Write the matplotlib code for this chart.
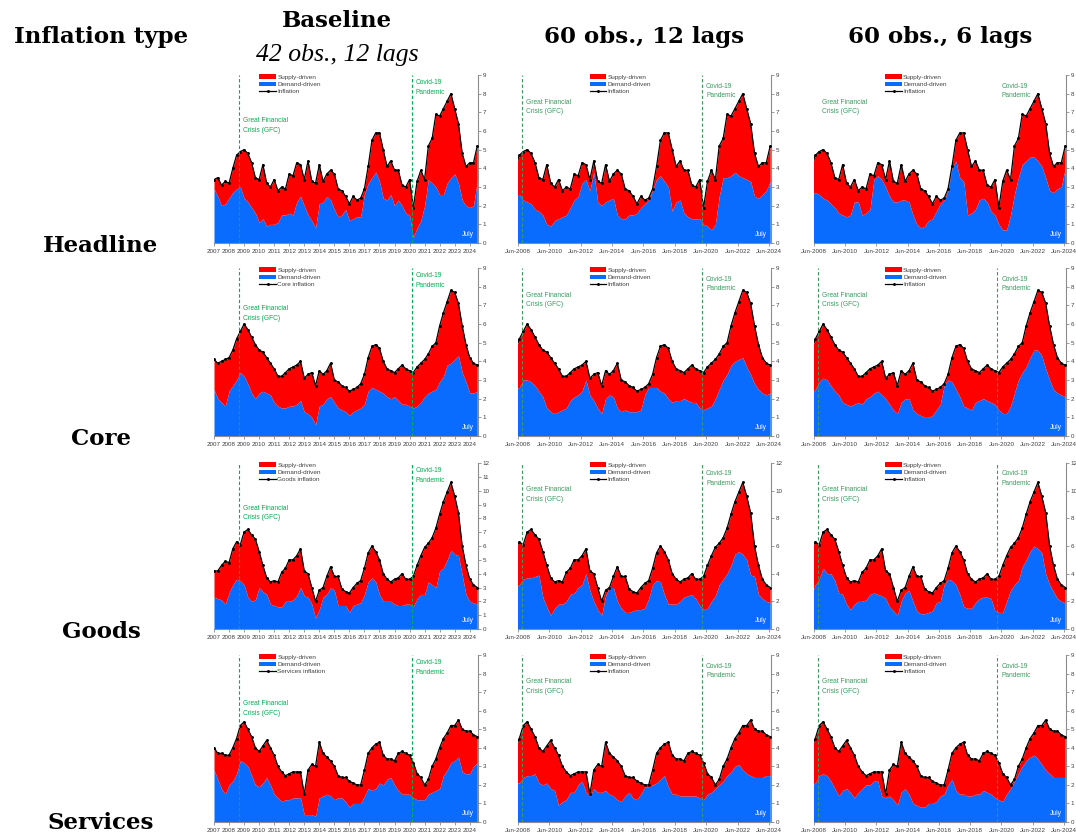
import numpy as np
import matplotlib
matplotlib.use("Agg")
import matplotlib.pyplot as plt
from matplotlib.patches import Patch
from matplotlib.lines import Line2D

plt.rcParams['font.family'] = ['Liberation Sans', 'DejaVu Sans']

# ---------------- data (quarterly readings, Jan 2007 .. Jul 2024) ----------------
start_year = 2007
n_q = 71
start_alt = 5  # 60-obs models start in 2008 Q2

headline_infl = [3.4, 3.5, 3.1, 3.3, 3.2, 4.0, 4.7, 4.9, 5.0, 4.8, 4.3, 3.5,
                 3.4, 4.2, 3.2, 3.0, 3.4, 2.8, 3.0, 2.9, 3.7, 3.6, 4.3, 4.2,
                 3.4, 4.4, 3.3, 3.2, 4.2, 3.3, 3.7, 3.9, 3.7, 2.9, 2.8, 2.5,
                 2.1, 2.5, 2.3, 2.4, 2.9, 4.1, 5.5, 5.9, 5.9, 5.0, 4.1, 4.4,
                 3.9, 3.9, 3.1, 3.0, 3.4, 1.9, 3.3, 3.9, 3.4, 5.2, 5.6, 6.9,
                 6.8, 7.2, 7.6, 8.0, 7.2, 6.4, 4.8, 4.1, 4.3, 4.3, 5.2]
headline_dem_base = [2.9, 2.5, 2.0, 2.1, 2.4, 2.7, 2.9, 3.0, 2.4, 2.2, 1.9, 1.6,
                     1.1, 1.3, 0.9, 1.0, 1.0, 1.1, 1.5, 1.5, 1.6, 1.5, 2.2, 2.5,
                     2.0, 1.5, 1.2, 0.8, 2.1, 2.2, 2.5, 2.3, 1.8, 1.4, 1.5, 1.8,
                     1.2, 1.3, 1.4, 1.4, 2.6, 3.2, 3.5, 3.8, 3.3, 2.4, 2.3, 2.6,
                     2.0, 2.3, 2.0, 1.6, 1.5, 0.3, 0.8, 1.2, 2.0, 3.4, 3.2, 3.0,
                     2.6, 2.6, 3.2, 3.5, 3.7, 3.2, 2.3, 2.0, 1.9, 2.0, 3.3]
headline_dem_60x12 = [2.6, 2.6, 2.3, 2.2, 2.1, 1.8, 1.7, 1.5, 1.0, 0.9, 1.2,
                      1.3, 1.4, 1.5, 1.9, 2.3, 2.5, 3.2, 3.4, 2.8, 3.8, 2.2, 2.0,
                      2.2, 2.3, 2.4, 1.5, 1.3, 1.3, 1.5, 1.5, 1.6, 1.9, 2.1, 2.3,
                      2.8, 3.4, 3.6, 3.3, 3.0, 1.7, 2.2, 2.3, 1.6, 1.4, 1.3, 1.3,
                      1.3, 1.0, 0.9, 0.7, 1.0, 2.5, 3.5, 3.5, 3.6, 3.8, 3.6, 3.5,
                      3.4, 3.3, 2.5, 2.4, 2.6, 2.8, 3.3]
headline_dem_60x6 = [2.6, 2.7, 2.6, 2.4, 2.3, 2.1, 1.9, 1.6, 1.5, 1.4, 1.5,
                     2.2, 2.2, 1.5, 1.6, 1.8, 3.4, 3.6, 3.4, 3.0, 2.5, 2.2, 2.2,
                     2.3, 2.3, 2.2, 1.5, 1.0, 0.8, 0.9, 1.2, 1.3, 1.7, 2.1, 2.3,
                     2.8, 4.0, 4.4, 3.5, 3.3, 1.5, 1.6, 1.8, 2.3, 2.4, 2.2, 1.7,
                     1.5, 1.0, 0.7, 0.7, 1.5, 2.6, 3.5, 4.2, 4.4, 4.6, 4.6, 4.4,
                     4.1, 3.5, 2.8, 2.7, 2.9, 3.0, 4.0]

core_infl = [4.1, 3.9, 4.0, 4.1, 4.2, 4.6, 5.2, 5.6, 6.0, 5.7, 5.3, 4.9,
             4.6, 4.5, 4.2, 3.9, 3.6, 3.2, 3.2, 3.4, 3.6, 3.7, 3.8, 4.0,
             3.1, 3.3, 3.4, 2.7, 3.5, 3.3, 3.5, 3.9, 3.0, 2.9, 2.7, 2.6,
             2.4, 2.5, 2.6, 2.8, 3.3, 4.2, 4.8, 4.9, 4.7, 4.0, 3.6, 3.5,
             3.4, 3.6, 3.8, 3.6, 3.5, 3.4, 3.7, 3.9, 4.1, 4.4, 4.8, 5.0,
             5.9, 6.6, 7.2, 7.8, 7.7, 7.1, 5.9, 4.9, 4.2, 3.9, 3.8]
core_dem_base = [2.5, 2.0, 1.8, 1.6, 2.4, 2.7, 3.0, 3.4, 3.2, 2.8, 2.3, 2.0,
                 2.3, 2.4, 2.3, 2.2, 1.8, 1.6, 1.5, 1.5, 1.6, 1.6, 1.7, 1.9,
                 1.3, 1.2, 1.0, 0.6, 1.6, 1.7, 2.0, 2.1, 1.8, 1.5, 1.4, 1.3,
                 1.1, 1.3, 1.4, 1.5, 1.7, 2.4, 2.6, 2.5, 2.4, 2.3, 2.1, 2.0,
                 2.1, 1.9, 1.7, 1.7, 1.6, 1.5, 1.6, 1.8, 2.1, 2.3, 2.4, 2.5,
                 2.9, 3.2, 3.8, 3.9, 4.1, 4.3, 3.4, 2.9, 2.3, 2.3, 2.4]
core_dem_60x12 = [2.5, 2.6, 3.0, 3.0, 2.9, 2.7, 2.4, 2.1, 1.5, 1.3, 1.2,
                  1.3, 1.4, 1.5, 1.9, 2.1, 2.2, 2.4, 3.0, 2.2, 1.9, 1.5, 1.2,
                  2.0, 2.2, 2.1, 1.5, 1.3, 1.4, 1.3, 1.3, 1.3, 1.4, 2.2, 2.6,
                  2.6, 2.6, 2.4, 2.3, 2.0, 1.8, 1.9, 1.9, 2.0, 1.9, 1.8, 1.8,
                  1.5, 1.4, 1.5, 1.6, 2.0, 2.5, 3.0, 3.3, 3.8, 4.0, 4.1, 4.2,
                  3.7, 3.3, 2.8, 2.5, 2.3, 2.2, 2.3]
core_dem_60x6 = [2.2, 2.5, 2.9, 3.1, 3.0, 2.7, 2.4, 2.2, 1.8, 1.7, 1.6,
                 1.7, 1.8, 1.7, 2.0, 2.1, 2.3, 2.4, 2.2, 2.0, 1.7, 1.4, 1.2,
                 1.8, 2.0, 2.0, 1.4, 1.2, 1.1, 1.0, 1.0, 1.1, 1.4, 1.7, 2.7,
                 3.0, 2.9, 2.5, 2.1, 1.6, 1.5, 1.4, 1.8, 1.9, 2.0, 1.9, 1.8,
                 1.7, 1.4, 1.2, 1.2, 1.6, 2.3, 3.0, 3.4, 3.7, 4.2, 4.6, 4.6,
                 4.3, 3.6, 3.0, 2.5, 2.3, 2.2, 2.1]

goods_infl = [4.2, 4.2, 4.6, 4.9, 4.8, 5.8, 6.3, 6.1, 7.0, 7.2, 6.8, 6.5,
              5.6, 4.6, 3.7, 3.4, 3.5, 3.4, 4.1, 4.4, 5.0, 5.0, 5.3, 5.8,
              4.2, 4.0, 3.0, 2.0, 2.8, 3.0, 3.8, 4.5, 3.8, 3.8, 2.9, 2.7,
              2.6, 3.0, 3.3, 3.5, 4.4, 5.5, 6.0, 5.6, 5.0, 4.0, 3.6, 3.4,
              3.6, 3.7, 4.0, 3.6, 3.6, 3.8, 4.6, 5.3, 5.9, 6.2, 6.6, 7.3,
              8.3, 9.2, 9.9, 10.6, 9.6, 8.4, 6.0, 4.6, 3.6, 3.2, 3.0]
goods_dem_base = [2.3, 2.2, 2.1, 1.8, 2.6, 3.2, 3.6, 3.5, 3.2, 2.3, 2.0, 2.1,
                  3.0, 2.7, 2.5, 1.8, 1.7, 1.6, 1.6, 2.0, 2.0, 2.1, 2.4, 3.0,
                  2.4, 2.3, 1.8, 0.8, 1.4, 2.3, 2.5, 3.0, 2.8, 1.7, 1.7, 1.7,
                  1.2, 1.7, 1.8, 1.9, 2.5, 3.4, 3.7, 3.4, 2.5, 2.0, 2.0, 2.0,
                  1.8, 1.7, 1.7, 1.8, 1.8, 1.6, 2.2, 2.5, 2.5, 3.4, 3.2, 3.0,
                  4.2, 4.4, 5.0, 5.7, 5.4, 5.3, 3.9, 2.5, 2.0, 1.9, 1.8]
goods_dem_60x12 = [3.0, 3.2, 3.6, 3.7, 3.7, 3.8, 3.9, 2.3, 1.6, 1.0, 1.5,
                   1.8, 1.8, 2.0, 2.5, 2.6, 3.0, 3.2, 4.0, 2.8, 2.0, 1.4, 1.0,
                   2.4, 3.0, 3.0, 2.0, 1.5, 1.2, 1.2, 1.3, 1.4, 1.4, 1.5, 2.2,
                   3.2, 3.5, 3.4, 2.5, 1.8, 1.8, 1.8, 2.0, 2.3, 2.4, 2.5, 2.2,
                   1.7, 1.4, 1.5, 2.0, 2.4, 3.2, 3.6, 4.0, 4.6, 5.4, 5.6, 5.4,
                   5.0, 3.9, 3.8, 2.5, 2.2, 2.0, 1.9]
goods_dem_60x6 = [2.5, 3.2, 3.6, 4.4, 4.0, 4.0, 3.5, 2.6, 2.5, 1.8, 1.4,
                  1.8, 2.0, 2.0, 2.1, 2.5, 2.6, 2.5, 2.4, 2.2, 1.6, 1.3, 1.0,
                  2.0, 2.6, 2.8, 2.0, 1.3, 1.1, 1.1, 1.2, 1.3, 1.9, 2.0, 3.2,
                  3.6, 3.5, 3.2, 2.5, 1.6, 1.5, 1.5, 1.9, 2.2, 2.3, 2.3, 2.2,
                  1.3, 1.2, 1.2, 2.0, 2.8, 3.2, 3.5, 4.5, 5.0, 5.6, 6.0, 5.8,
                  5.5, 4.0, 3.2, 2.7, 2.2, 2.0, 1.9]

services_infl = [4.0, 3.7, 3.7, 3.6, 3.6, 4.0, 4.5, 5.2, 5.4, 5.0, 4.6, 4.0,
                 3.8, 4.1, 4.4, 4.0, 3.6, 3.0, 2.7, 2.5, 2.6, 2.7, 2.7, 2.7,
                 1.5, 2.8, 3.1, 3.0, 4.3, 3.7, 3.5, 3.3, 3.0, 2.5, 2.4, 2.4,
                 2.2, 2.1, 2.0, 2.0, 2.8, 3.7, 4.0, 4.2, 4.3, 3.6, 3.4, 3.4,
                 3.3, 3.7, 3.8, 3.7, 3.6, 3.2, 2.6, 2.4, 2.0, 2.3, 3.0, 3.4,
                 4.0, 4.5, 4.8, 5.2, 5.2, 5.5, 5.0, 4.9, 4.9, 4.7, 4.6]
services_dem_base = [2.8, 2.3, 1.8, 1.5, 2.0, 2.2, 2.6, 3.3, 3.2, 3.0, 2.5, 2.0,
                     1.9, 2.1, 2.4, 2.0, 1.5, 1.3, 1.1, 1.2, 1.2, 1.3, 1.3, 1.3,
                     0.4, 0.4, 0.4, 0.3, 1.3, 1.4, 1.5, 1.4, 1.2, 1.3, 1.3, 1.1,
                     0.8, 1.0, 1.0, 1.0, 1.4, 1.8, 1.7, 1.8, 2.1, 2.0, 2.3, 2.4,
                     2.0, 1.7, 1.5, 1.5, 1.5, 1.3, 1.2, 1.2, 1.2, 1.5, 1.6, 1.7,
                     1.8, 2.5, 2.8, 3.2, 3.3, 3.5, 2.7, 2.6, 2.6, 3.0, 3.2]
services_dem_60x12 = [2.1, 2.1, 2.4, 2.5, 2.5, 2.6, 2.1, 2.0, 2.1, 1.8, 1.7,
                      0.9, 1.1, 1.2, 1.6, 1.6, 2.0, 2.2, 1.6, 1.4, 1.8, 1.6, 1.6,
                      1.7, 1.5, 1.4, 1.2, 1.1, 1.4, 1.6, 1.3, 1.2, 1.5, 1.9, 1.9,
                      2.0, 2.1, 2.3, 2.5, 1.9, 1.5, 1.5, 1.4, 1.4, 1.4, 1.4, 1.4,
                      1.3, 1.2, 1.5, 1.6, 1.8, 2.0, 2.2, 2.5, 2.7, 3.0, 3.1, 2.8,
                      2.6, 2.5, 2.4, 2.4, 2.4, 2.5, 2.5]
services_dem_60x6 = [2.0, 2.1, 2.5, 2.6, 2.5, 2.2, 1.8, 1.4, 1.7, 1.8, 1.6,
                     1.3, 1.6, 1.8, 2.0, 2.0, 2.2, 2.2, 1.4, 1.3, 1.4, 1.2, 0.9,
                     1.6, 1.8, 1.5, 1.0, 0.9, 0.8, 0.8, 1.0, 1.0, 1.1, 1.4, 1.5,
                     2.0, 2.3, 1.7, 1.5, 1.5, 1.4, 1.4, 1.5, 1.5, 1.7, 1.6, 1.5,
                     1.3, 1.2, 1.1, 1.5, 1.8, 2.2, 2.6, 3.0, 3.3, 3.5, 3.6, 3.4,
                     3.1, 2.8, 2.6, 2.4, 2.4, 2.4, 2.4]

row_names = ["Headline", "Core", "Goods", "Services"]
base_legend_labels = ["Inflation", "Core inflation", "Goods inflation", "Services inflation"]
col_titles = ["60 obs., 12 lags", "60 obs., 6 lags"]
gfc_date = 2008.65
covid_date = 2020.16

infl_rows = [headline_infl, core_infl, goods_infl, services_infl]
dem_rows = [[headline_dem_base, headline_dem_60x12, headline_dem_60x6],
            [core_dem_base, core_dem_60x12, core_dem_60x6],
            [goods_dem_base, goods_dem_60x12, goods_dem_60x6],
            [services_dem_base, services_dem_60x12, services_dem_60x6]]

# ---------------- styling ----------------
RED = '#FF0000'
BLUE = '#0A6CFF'
GREEN_BASE = '#00B050'
GREEN_ALT = '#3C9A5F'
AXC = '#8C8C8C'
TXT = '#404040'
HEAD_FONT = ['DejaVu Serif']

W, H = 1076, 838
fig = plt.figure(figsize=(W / 100, H / 100), dpi=100)

col_px = [(214, 478), (518, 771), (814, 1066)]
row_px = [(75, 243), (268, 436), (463, 629), (655, 822)]

quarters = start_year + np.arange(n_q) / 4.0


def add_ax(c, r):
    (l, rr), (t, b) = col_px[c], row_px[r]
    return fig.add_axes([l / W, 1 - b / H, (rr - l) / W, (b - t) / H])


for r in range(4):
    infl = np.array(infl_rows[r])
    ymax = 12 if r == 2 else 9
    for c in range(3):
        ax = add_ax(c, r)
        dem = np.array(dem_rows[r][c])
        if c == 0:
            x = quarters
            y = infl
        else:
            x = quarters[start_alt:]
            y = infl[start_alt:]
        top = np.minimum(dem, y)
        ax.fill_between(x, 0, top, color=BLUE, lw=0)
        ax.fill_between(x, top, y, color=RED, lw=0)
        ax.plot(x, y, color='black', lw=0.9, marker='o', ms=1.1, zorder=4)

        ax.set_ylim(0, ymax)
        if c == 0:
            ax.set_xlim(2007.0, 2024.55)
            ax.set_xticks(np.arange(2007, 2025))
            ax.set_xticklabels([str(v) for v in range(2007, 2025)])
            ax.set_yticks(np.arange(0, ymax + 1, 1))
        else:
            ax.set_xlim(2008.42, 2024.55)
            jt = np.arange(2008, 2025, 2) + 5 / 12
            ax.set_xticks(jt)
            ax.set_xticklabels([f"Jun-{v}" for v in range(2008, 2025, 2)])
            ax.set_yticks(np.arange(0, ymax + 1, 1 if ymax == 9 else 2))

        for s in ['left', 'top']:
            ax.spines[s].set_visible(False)
        for s in ['right', 'bottom']:
            ax.spines[s].set_color(AXC)
            ax.spines[s].set_linewidth(0.8)
        ax.yaxis.tick_right()
        ax.tick_params(axis='both', labelsize=4.5, colors=TXT, length=2.5,
                       width=0.6, direction='out')
        ax.tick_params(axis='x', pad=1.5)
        ax.tick_params(axis='y', pad=1.0)
        ax.tick_params(axis='both', color=AXC)
        ax.set_facecolor('none')

        # event markers
        gcol = GREEN_BASE if c == 0 else GREEN_ALT
        draw_lines = not (r == 0 and c == 2)
        if draw_lines:
            for d in (gfc_date, covid_date):
                ax.axvline(d, color=gcol, lw=0.8, ls=(0, (3, 2)), zorder=5)
        if c == 0:
            gfc_y = {0: 0.70, 1: 0.73, 2: 0.70, 3: 0.68}[r]
        else:
            gfc_y = 0.81
        ax.text(gfc_date + 0.25, gfc_y * ymax, "Great Financial\nCrisis (GFC)",
                color=gcol, fontsize=4.8, va='center', ha='left', linespacing=1.5)
        ax.text(covid_date + 0.25, 0.975 * ymax if c == 0 else 0.955 * ymax,
                "Covid-19\nPandemic", color=gcol, fontsize=4.8, va='top',
                ha='left', linespacing=1.5)
        ax.text(0.985, 0.03, "July", transform=ax.transAxes, color='white',
                fontsize=4.8, ha='right', va='bottom', zorder=6)

        lab = base_legend_labels[r] if c == 0 else "Inflation"
        handles = [Patch(facecolor=RED, edgecolor='none'),
                   Patch(facecolor=BLUE, edgecolor='none'),
                   Line2D([0], [0], color='black', lw=0.9, marker='o', ms=1.1)]
        ax.legend(handles, ["Supply-driven", "Demand-driven", lab],
                  loc='upper left', bbox_to_anchor=(0.155 if c == 0 else 0.265, 1.03),
                  frameon=False, fontsize=4.6, handlelength=2.6,
                  handleheight=0.7, labelspacing=0.25, handletextpad=0.2,
                  borderpad=0.2, labelcolor=TXT)

# ---------------- headers and row labels ----------------
hkw = dict(fontsize=16.5, ha='center', va='center', family=HEAD_FONT,
           fontweight='bold')
fig.text(101 / W, 1 - 37 / H, 'Inflation type', **hkw)
fig.text(337 / W, 1 - 21 / H, 'Baseline', **hkw)
fig.text(337 / W, 1 - 55 / H, '42 obs., 12 lags', fontsize=18.5, ha='center',
         va='center', family=['Liberation Serif'], style='italic')
fig.text(644 / W, 1 - 37 / H, col_titles[0], **hkw)
fig.text(940 / W, 1 - 37 / H, col_titles[1], **hkw)

row_label_y = [246, 439, 632, 823]
for name, yy in zip(row_names, row_label_y):
    fig.text(101 / W, 1 - yy / H, name, **hkw)

fig.savefig('out.png', dpi=100)
